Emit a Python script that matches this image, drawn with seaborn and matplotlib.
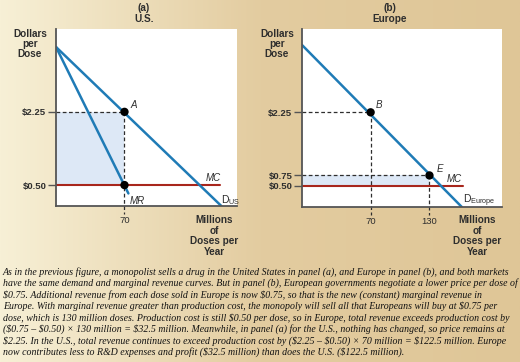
import numpy as np
import matplotlib
matplotlib.use("Agg")
import matplotlib.pyplot as plt
from matplotlib.colors import LinearSegmentedColormap
import seaborn as sns

# ---------------- data ----------------
us_demand_q = [0, 169]
us_demand_p = [3.8, 0.0]
us_mr_q = [0, 74]
us_mr_p = [3.8, 0.3]
us_mc_q = [0, 168]
eu_demand_q = [0, 163]
eu_demand_p = [3.85, 0.0]
eu_mc_q = [0, 164]
mc_price = 0.50
us_price = 2.25
eu_price = 0.75
us_qty = 70
eu_qty = 130
us_yticks = [0.50, 2.25]
us_ytick_labels = ["$0.50", "$2.25"]
eu_yticks = [0.50, 0.75, 2.25]
eu_ytick_labels = ["$0.50", "$0.75", "$2.25"]
us_xticks = [70]
eu_xticks = [70, 130]
caption_lines = [
    "As in the previous figure, a monopolist sells a drug in the United States in panel (a), and Europe in panel (b), and both markets",
    "have the same demand and marginal revenue curves. But in panel (b), European governments negotiate a lower price per dose of",
    "$0.75. Additional revenue from each dose sold in Europe is now $0.75, so that is the new (constant) marginal revenue in",
    "Europe. With marginal revenue greater than production cost, the monopoly will sell all that Europeans will buy at $0.75 per",
    "dose, which is 130 million doses. Production cost is still $0.50 per dose, so in Europe, total revenue exceeds production cost by",
    "($0.75 \u2013 $0.50) \u00d7 130 million = $32.5 million. Meanwhile, in panel (a) for the U.S., nothing has changed, so price remains at",
    "$2.25. In the U.S., total revenue continues to exceed production cost by ($2.25 \u2013 $0.50) \u00d7 70 million = $122.5 million. Europe",
    "now contributes less to R&D expenses and profit ($32.5 million) than does the U.S. ($122.5 million).",
]

# ---------------- style ----------------
sns.set_theme(style="white")
plt.rcParams["font.family"] = ["Liberation Sans", "DejaVu Sans"]

W, H = 520, 362
BLUE = "#1f7bb6"
RED = "#a8261c"
SHADE = "#dde8f6"
DARK = "#2e2e2e"
SPINE = "#555555"
DASH = (0, (3, 2))

fig = plt.figure(figsize=(W / 100, H / 100), dpi=100)

# gradient background
bg = fig.add_axes([0, 0, 1, 1], zorder=-10)
cmap = LinearSegmentedColormap.from_list(
    "bg", [(0, "#f7f0d6"), (0.5, "#e3cca0"), (1.0, "#dfc697")])
grad = np.linspace(0, 1, 256).reshape(1, -1)
bg.imshow(grad, aspect="auto", cmap=cmap, extent=[0, 1, 0, 1])
bg.axis("off")


def px_axes(left, top, right, bottom):
    return fig.add_axes([left / W, 1 - bottom / H, (right - left) / W, (bottom - top) / H])


ax_a = px_axes(56, 29, 237, 206)
ax_b = px_axes(302, 29, 502, 207)


def style_axes(ax, xmax, yticks, ylabels):
    ax.set_facecolor("white")
    ax.set_xlim(0, xmax)
    ax.set_ylim(0, 4.23)
    for s in ["top", "right"]:
        ax.spines[s].set_visible(False)
    for s in ["left", "bottom"]:
        ax.spines[s].set_color(SPINE)
        ax.spines[s].set_linewidth(1.3)
        ax.spines[s].set_zorder(5)
    ax.set_yticks(yticks)
    ax.set_yticklabels([t.replace("$", r"\$") for t in ylabels], fontweight="bold")
    ax.tick_params(axis="y", direction="out", length=6, width=1.0, color=SPINE,
                   pad=1, labelsize=6.8, labelcolor=DARK, left=True)
    ax.set_xlabel("")
    ax.set_ylabel("")


def line(ax, x, y, color, lw, z=3):
    sns.lineplot(x=x, y=y, ax=ax, color=color, linewidth=lw, legend=False,
                 sort=False, estimator=None, zorder=z)


def dashed(ax, x, y):
    ax.plot(x, y, color=DARK, linestyle=DASH, linewidth=0.9, zorder=2, clip_on=False)


# ---- panel (a) U.S. ----
ax = ax_a
ax.fill_between([0, us_qty], mc_price, us_price, color=SHADE, zorder=1, linewidth=0)
dashed(ax, [0, us_qty], [us_price, us_price])
dashed(ax, [us_qty, us_qty], [us_price, -0.2])
line(ax, us_mc_q, [mc_price, mc_price], RED, 1.5)
line(ax, us_demand_q, us_demand_p, BLUE, 1.8)
line(ax, us_mr_q, us_mr_p, BLUE, 1.8)
sns.scatterplot(x=[us_qty, us_qty], y=[us_price, mc_price], ax=ax, color="black",
                s=36, zorder=6, legend=False, edgecolor="none", clip_on=False)
style_axes(ax, 185, us_yticks, us_ytick_labels)
ax.set_xticks(us_xticks)
ax.set_xticklabels([str(v) for v in us_xticks])
ax.tick_params(axis="x", length=0, pad=7, labelsize=6.8, labelcolor=DARK)
ax.text(76, 2.42, "A", fontsize=7, style="italic", color=DARK, va="center", ha="left")
ax.text(75, 0.12, "MR", fontsize=7, style="italic", color=DARK, va="center", ha="left")
ax.text(161, 0.67, "MC", fontsize=7, style="italic", color=DARK, va="center", ha="center")
ax.text(169, 0.14, r"D$_{\mathregular{US}}$", fontsize=7.5, color=DARK, va="center", ha="left")

# ---- panel (b) Europe ----
ax = ax_b
ax.fill_between([0, eu_qty], mc_price, eu_price, color=SHADE, zorder=1, linewidth=0)
dashed(ax, [0, us_qty], [us_price, us_price])
dashed(ax, [us_qty, us_qty], [us_price, -0.2])
dashed(ax, [0, eu_qty], [eu_price, eu_price])
dashed(ax, [eu_qty, eu_qty], [eu_price, -0.2])
line(ax, eu_mc_q, [mc_price, mc_price], RED, 1.5)
line(ax, eu_demand_q, eu_demand_p, BLUE, 1.8)
sns.scatterplot(x=[us_qty, eu_qty], y=[us_price, eu_price], ax=ax, color="black",
                s=36, zorder=6, legend=False, edgecolor="none", clip_on=False)
style_axes(ax, 204, eu_yticks, eu_ytick_labels)
ax.set_xticks(eu_xticks)
ax.set_xticklabels([str(v) for v in eu_xticks])
ax.tick_params(axis="x", length=0, pad=7, labelsize=6.8, labelcolor=DARK)
ax.text(75, 2.42, "B", fontsize=7, style="italic", color=DARK, va="center", ha="left")
ax.text(137, 0.90, "E", fontsize=7, style="italic", color=DARK, va="center", ha="left")
ax.text(155, 0.67, "MC", fontsize=7, style="italic", color=DARK, va="center", ha="center")
ax.text(164, 0.14, r"D$_{\mathregular{Europe}}$", fontsize=7.5, color=DARK, va="center", ha="left")

# ---- titles and axis labels ----
def ftext(x, y, s, **kw):
    fig.text(x / W, 1 - y / H, s, **kw)

bold = dict(fontsize=7.2, fontweight="bold", color=DARK, ha="center", va="center",
            linespacing=1.05)
ftext(144, 13.5, "(a)\nU.S.", **bold)
ftext(390, 13.5, "(b)\nEurope", **bold)
ftext(30, 44, "Dollars\nper\nDose", **bold)
ftext(277, 44, "Dollars\nper\nDose", **bold)
ftext(214, 236, "Millions\nof\nDoses per\nYear", **bold)
ftext(477, 236, "Millions\nof\nDoses per\nYear", **bold)

# ---- caption ----
for i, s in enumerate(caption_lines):
    ftext(3, 272 + 11.5 * i, s.replace("$", r"\$"), fontsize=7.1, style="italic",
          family=["Liberation Serif", "DejaVu Serif"], color="#111111",
          ha="left", va="center")

fig.savefig("out.png", dpi=100)
